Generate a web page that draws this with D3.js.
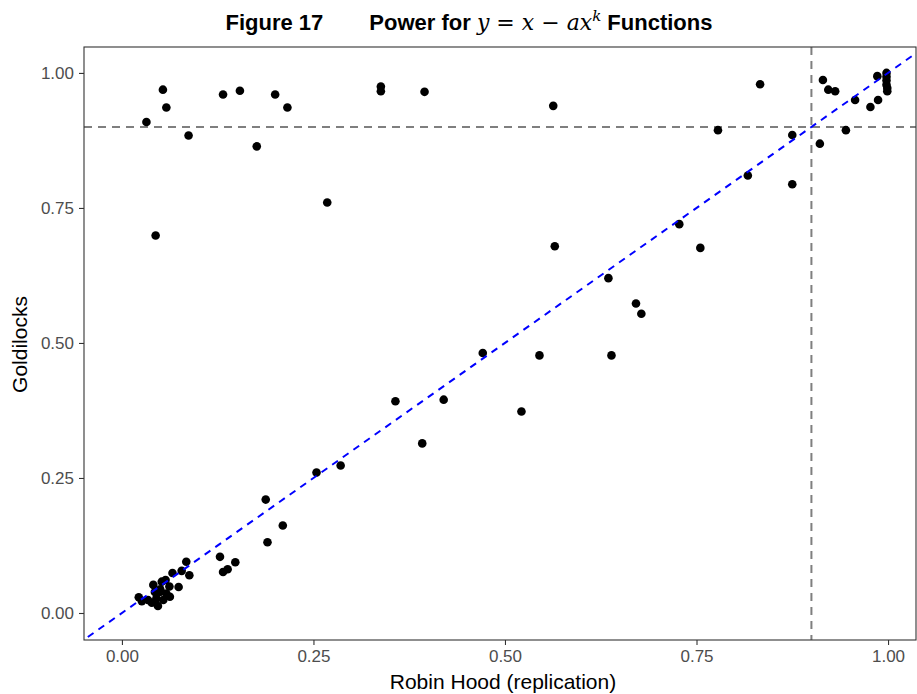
<!DOCTYPE html>
<html>
<head>
<meta charset="utf-8">
<script src="https://cdn.jsdelivr.net/npm/d3@7"></script>
<style>
  body { margin: 0; background: #fff; }
  svg { font-family: "Liberation Sans", Arial, sans-serif; }
</style>
</head>
<body>
<svg width="917" height="694"></svg>
<script>
// Robin Hood (replication) waarden
var robinHood = [
  0.0535, 0.058, 0.032, 0.087, 0.044, 0.132, 0.154, 0.176, 0.200, 0.216, 0.268, 0.338, 0.338, 0.395, 0.563,
  0.833, 0.915, 0.922, 0.931, 0.957, 0.986, 0.998, 0.998, 0.998, 0.998, 0.999, 0.999, 0.987, 0.977,
  0.945, 0.911, 0.875, 0.875, 0.817, 0.778,
  0.565, 0.7275, 0.755, 0.635, 0.671, 0.678, 0.545, 0.639, 0.471,
  0.357, 0.420, 0.392, 0.5215, 0.2855, 0.254, 0.1877, 0.210, 0.190,
  0.128, 0.148, 0.138, 0.132,
  0.022, 0.041, 0.039, 0.047, 0.034, 0.052, 0.057, 0.0495, 0.058, 0.0626, 0.045, 0.054, 0.062,
  0.066, 0.074, 0.078, 0.084, 0.088, 0.043, 0.026, 0.050
];
// Goldilocks waarden
var goldilocks = [
  0.969, 0.936, 0.909, 0.884, 0.699, 0.960, 0.967, 0.864, 0.960, 0.936, 0.760, 0.975, 0.966, 0.965, 0.939,
  0.979, 0.987, 0.969, 0.966, 0.950, 0.994, 1.000, 0.993, 0.986, 0.978, 0.972, 0.966, 0.950, 0.937,
  0.894, 0.869, 0.885, 0.794, 0.810, 0.894,
  0.679, 0.720, 0.676, 0.620, 0.573, 0.554, 0.477, 0.477, 0.4815,
  0.392, 0.395, 0.314, 0.373, 0.273, 0.260, 0.210, 0.162, 0.131,
  0.104, 0.094, 0.081, 0.076,
  0.029, 0.052, 0.019, 0.013, 0.024, 0.058, 0.061, 0.039, 0.036, 0.030, 0.027, 0.024, 0.049,
  0.074, 0.048, 0.078, 0.095, 0.070, 0.039, 0.022, 0.044
];
var tickValues = [0, 0.25, 0.5, 0.75, 1];
var threshold = 0.9;

var svg = d3.select("svg"),
    margin = {top: 47, right: 1, bottom: 54, left: 84},
    width = +svg.attr("width") - margin.left - margin.right,
    height = +svg.attr("height") - margin.top - margin.bottom;

var data = robinHood.map(function(d, i) { return {x: d, y: goldilocks[i]}; });

var x = d3.scaleLinear().domain([-0.0495, 1.0365]).range([0, width]),
    y = d3.scaleLinear().domain([-0.05, 1.048]).range([height, 0]);

var g = svg.append("g")
    .attr("transform", "translate(" + margin.left + "," + margin.top + ")");

g.append("clipPath").attr("id", "clip")
  .append("rect").attr("width", width).attr("height", height);

var plot = g.append("g").attr("clip-path", "url(#clip)");

// referentielijnen op 0.9
plot.append("line")
    .attr("x1", 0).attr("x2", width)
    .attr("y1", y(threshold)).attr("y2", y(threshold))
    .attr("stroke", "#7f7f7f").attr("stroke-width", 2).attr("stroke-dasharray", "8,6");
plot.append("line")
    .attr("x1", x(threshold)).attr("x2", x(threshold))
    .attr("y1", 0).attr("y2", height)
    .attr("stroke", "#7f7f7f").attr("stroke-width", 2).attr("stroke-dasharray", "8,6");

// punten
plot.selectAll(".dot")
    .data(data)
  .enter().append("circle")
    .attr("class", "dot")
    .attr("cx", function(d) { return x(d.x); })
    .attr("cy", function(d) { return y(d.y); })
    .attr("r", 4.3)
    .attr("fill", "#000");

// y = x lijn
plot.append("line")
    .attr("x1", x(-0.1)).attr("y1", y(-0.1))
    .attr("x2", x(1.1)).attr("y2", y(1.1))
    .attr("stroke", "#0000ff").attr("stroke-width", 2).attr("stroke-dasharray", "7,6");

// rand
g.append("rect")
    .attr("width", width).attr("height", height)
    .attr("fill", "none").attr("stroke", "#333").attr("stroke-width", 1.1);

var xAxis = g.append("g")
    .attr("transform", "translate(0," + height + ")")
    .call(d3.axisBottom(x).tickValues(tickValues).tickFormat(d3.format(".2f")).tickSize(5).tickPadding(5));
var yAxis = g.append("g")
    .call(d3.axisLeft(y).tickValues(tickValues).tickFormat(d3.format(".2f")).tickSize(5).tickPadding(5));

[xAxis, yAxis].forEach(function(a) {
  a.select(".domain").remove();
  a.selectAll("line").attr("stroke", "#333").attr("stroke-width", 1.1);
  a.selectAll("text").attr("fill", "#4d4d4d").style("font-size", "17px").style("font-family", "Liberation Sans, Arial, sans-serif");
});

svg.append("text")
    .attr("x", margin.left + width / 2 + 3).attr("y", 689)
    .attr("text-anchor", "middle")
    .style("font-size", "21px")
    .text("Robin Hood (replication)");

svg.append("text")
    .attr("transform", "translate(27," + (margin.top + height / 2 + 1) + ") rotate(-90)")
    .attr("text-anchor", "middle")
    .style("font-size", "21px")
    .text("Goldilocks");

// titel
var title = svg.append("text")
    .attr("x", 469).attr("y", 30)
    .attr("text-anchor", "middle")
    .style("font-size", "22px")
    .style("font-weight", "bold");
title.append("tspan").text("Figure 17");
title.append("tspan").attr("dx", 46).text("Power for ");
var math = title.append("tspan").style("font-family", "DejaVu Serif, serif").style("font-weight", "normal").style("font-style", "italic");
math.append("tspan").text("y");
math.append("tspan").style("font-style", "normal").text(" = ");
math.append("tspan").text("x");
math.append("tspan").style("font-style", "normal").text(" − ");
math.append("tspan").text("ax");
title.append("tspan").attr("dy", -9).style("font-family", "DejaVu Serif, serif").style("font-weight", "normal").style("font-style", "italic").style("font-size", "15px").text("k");
title.append("tspan").attr("dy", 9).text(" Functions");
</script>
</body>
</html>
